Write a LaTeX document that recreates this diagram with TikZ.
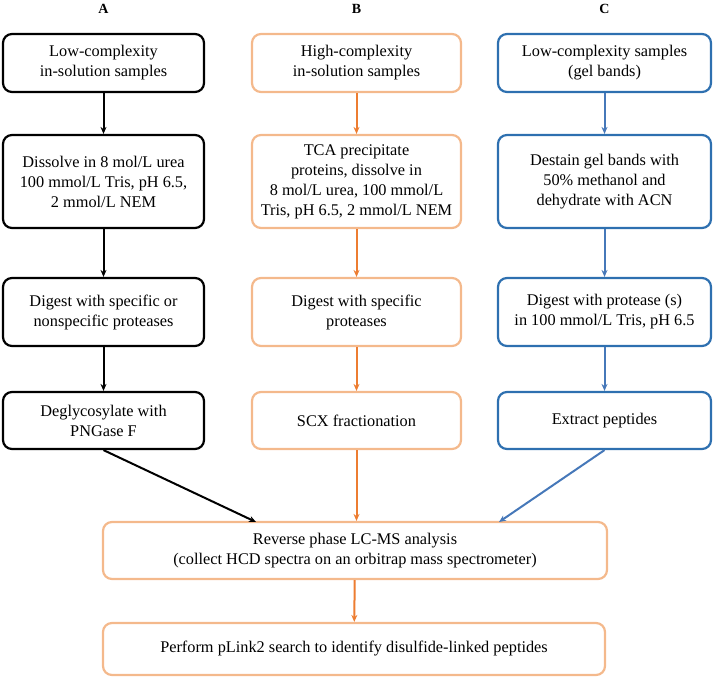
\documentclass[tikz,border=0pt]{standalone}
\usepackage{fontspec}
\setmainfont{Liberation Serif}
\usetikzlibrary{positioning, arrows.meta}
\definecolor{lineorange}{RGB}{244,185,140}
\definecolor{arroworange}{RGB}{237,125,49}
\definecolor{lineblue}{RGB}{46,112,176}
\definecolor{arrowblue}{RGB}{70,120,185}
\tikzset{
    >={Stealth[length=7pt, width=6pt]}, % arrow heads as in the paper figure
    stepbox/.style={draw, rounded corners=9pt, line width=2.2pt, align=center, inner sep=0pt,
        font=\fontsize{16.3}{20}\selectfont}, % every step of the workflow
    colA/.style={stepbox, draw=black, minimum width=201pt},
    colB/.style={stepbox, draw=lineorange, minimum width=209pt},
    colC/.style={stepbox, draw=lineblue, minimum width=213pt},
    head/.style={font=\fontsize{14}{16}\selectfont\bfseries}, % column letters
    flowA/.style={->, line width=2pt, black},
    flowB/.style={->, line width=2pt, arroworange},
    flowC/.style={->, line width=2pt, arrowblue},
}

\begin{document}
\begin{tikzpicture}[x=1pt, y=-1pt]
    \useasboundingbox (0,0) rectangle (714,678);
    % column letters
    \node[head] (hA) at (103.5,9) {A};
    \node[head] (hB) at (356.5,9) {B};
    \node[head] (hC) at (604.5,9) {C};
    % column A
    \node[colA, minimum height=58pt] (a1) at (103.5,63) {Low-complexity\\in-solution samples};
    \node[colA, minimum height=93pt] (a2) at (103.5,181.5) {Dissolve in 8 mol/L urea\\100 mmol/L Tris, pH 6.5,\\2 mmol/L NEM};
    \node[colA, minimum height=68pt] (a3) at (103.5,312) {Digest with specific or\\nonspecific proteases};
    \node[colA, minimum height=57pt] (a4) at (103.5,420.5) {Deglycosylate with\\PNGase F};
    % column B
    \node[colB, minimum height=58pt] (b1) at (356.5,63) {High-complexity\\in-solution samples};
    \node[colB, minimum height=93pt] (b2) at (356.5,181.5) {TCA precipitate\\proteins, dissolve in\\8 mol/L urea, 100 mmol/L\\Tris, pH 6.5, 2 mmol/L NEM};
    \node[colB, minimum height=68pt] (b3) at (356.5,312) {Digest with specific\\proteases};
    \node[colB, minimum height=57pt] (b4) at (356.5,420.5) {SCX fractionation};
    % column C
    \node[colC, minimum height=58pt] (c1) at (604.5,63) {Low-complexity samples\\(gel bands)};
    \node[colC, minimum height=93pt] (c2) at (604.5,181.5) {Destain gel bands with\\50\% methanol and\\dehydrate with ACN};
    \node[colC, minimum height=68pt] (c3) at (604.5,312) {Digest with protease (s)\\in 100 mmol/L Tris, pH 6.5};
    \node[colC, minimum height=57pt] (c4) at (604.5,420.5) {Extract peptides};
    % shared steps
    \node[stepbox, draw=lineorange, minimum width=504pt, minimum height=57pt] (lcms) at (355,550.5) {Reverse phase LC-MS analysis\\(collect HCD spectra on an orbitrap mass spectrometer)};
    \node[stepbox, draw=lineorange, minimum width=502pt, minimum height=52pt] (plink) at (354,649) {Perform pLink2 search to identify disulfide-linked peptides};
    \coordinate (inA) at (256,522);
    \coordinate (inC) at (499,522);

    \draw[flowA] (a1) -- (a2);
    \draw[flowA] (a2) -- (a3);
    \draw[flowA] (a3) -- (a4);
    \draw[flowA] (a4.south) -- (inA);
    \draw[flowB] (b1) -- (b2);
    \draw[flowB] (b2) -- (b3);
    \draw[flowB] (b3) -- (b4);
    \draw[flowB] (b4) -- (b4 |- lcms.north);
    \draw[flowC] (c1) -- (c2);
    \draw[flowC] (c2) -- (c3);
    \draw[flowC] (c3) -- (c4);
    \draw[flowC] (c4.south) -- (inC);
    \draw[flowB] (lcms) -- (plink);
\end{tikzpicture}
\end{document}
